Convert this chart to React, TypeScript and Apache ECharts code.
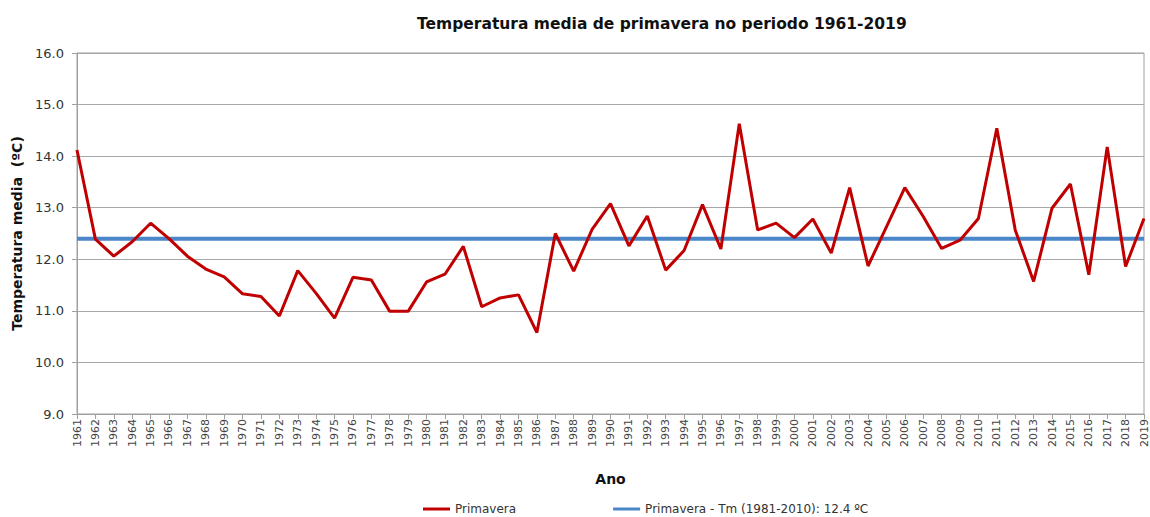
import React, { useEffect, useRef } from "react";
import * as echarts from "echarts";

const years: string[] = [];
for (let y = 1961; y <= 2019; y++) years.push(String(y));

const primavera: number[] = [
  14.12, 12.39, 12.06, 12.34, 12.70, 12.40, 12.06, 11.81, 11.66, 11.33,
  11.28, 10.90, 11.78, 11.34, 10.86, 11.65, 11.60, 10.99, 10.99, 11.56,
  11.71, 12.25, 11.08, 11.25, 11.31, 10.58, 12.50, 11.77, 12.58, 13.08,
  12.26, 12.84, 11.79, 12.17, 13.06, 12.20, 14.63, 12.57, 12.70, 12.42,
  12.78, 12.12, 13.39, 11.87, 12.63, 13.39, 12.83, 12.21, 12.37, 12.79,
  14.54, 12.57, 11.57, 12.99, 13.46, 11.70, 14.18, 11.86, 12.79,
];

const mediaValue = 12.4;
const media: number[] = years.map(() => mediaValue);

const titleText = "Temperatura media de primavera no periodo 1961-2019";
const seriesNames = ["Primavera", "Primavera - Tm (1981-2010): 12.4 ºC"];

export default function App() {
  const ref = useRef<HTMLDivElement>(null);
  useEffect(() => {
    if (!ref.current) return;
    const chart = echarts.init(ref.current, null, { renderer: "svg" });
    chart.setOption({
      animation: false,
      backgroundColor: "#ffffff",
      title: {
        text: titleText,
        left: 412,
        top: 11,
        textStyle: { fontFamily: "DejaVu Sans", fontSize: 15.5, fontWeight: "bold", color: "#111" },
      },
      grid: { left: 77, top: 53, width: 1067, height: 361, show: true, borderColor: "#a0a0a0", borderWidth: 1 },
      legend: {
        left: 418,
        top: 498,
        itemGap: 97,
        itemWidth: 27,
        itemHeight: 3,
        icon: "rect",
        textStyle: { fontFamily: "DejaVu Sans", fontSize: 12, color: "#333" },
        data: seriesNames,
      },
      xAxis: {
        type: "category",
        data: years,
        boundaryGap: false,
        name: "Ano",
        nameLocation: "middle",
        nameGap: 58,
        nameTextStyle: { fontFamily: "DejaVu Sans", fontSize: 14, fontWeight: "bold", color: "#111" },
        axisLine: { lineStyle: { color: "#a0a0a0" } },
        axisTick: { show: true, alignWithLabel: true, lineStyle: { color: "#a0a0a0" } },
        axisLabel: {
          rotate: 90,
          interval: 0,
          fontFamily: "DejaVu Sans",
          fontSize: 11,
          color: "#444",
          margin: 5,
        },
        splitLine: { show: false },
      },
      yAxis: {
        type: "value",
        min: 9,
        max: 16,
        interval: 1,
        name: "Temperatura media  (ºC)",
        nameLocation: "middle",
        nameGap: 47,
        nameTextStyle: { fontFamily: "DejaVu Sans", fontSize: 14, fontWeight: "bold", color: "#111" },
        axisLine: { show: true, lineStyle: { color: "#a0a0a0" } },
        axisTick: { show: true, lineStyle: { color: "#a0a0a0" } },
        axisLabel: {
          fontFamily: "DejaVu Sans",
          fontSize: 13,
          color: "#333",
          margin: 13,
          formatter: (v: number) => v.toFixed(1),
        },
        splitLine: { lineStyle: { color: "#a8a8a8", width: 1 } },
      },
      series: [
        {
          name: seriesNames[0],
          type: "line",
          data: primavera,
          symbol: "none",
          lineStyle: { color: "#c00000", width: 3 },
          itemStyle: { color: "#c00000" },
          z: 3,
        },
        {
          name: seriesNames[1],
          type: "line",
          data: media,
          symbol: "none",
          lineStyle: { color: "#4a86c8", width: 4 },
          itemStyle: { color: "#4a86c8" },
          z: 2,
        },
      ],
    });
    return () => chart.dispose();
  }, []);
  return (
    <div
      ref={ref}
      style={{ position: "absolute", left: 0, top: 0, width: 1150, height: 517 }}
    />
  );
}
